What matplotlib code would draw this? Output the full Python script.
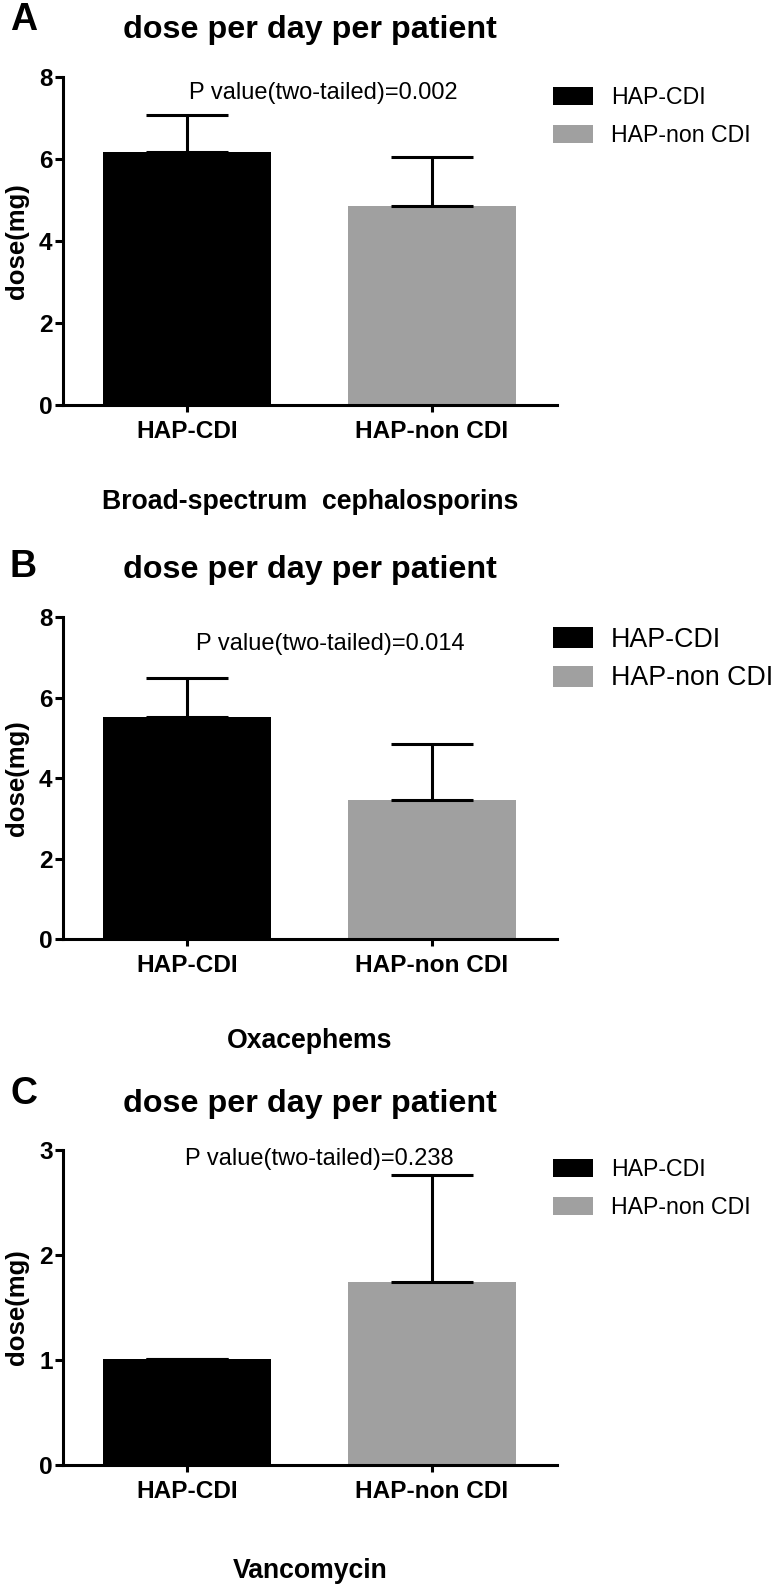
import matplotlib
matplotlib.use('Agg')
import matplotlib.pyplot as plt

plt.rcParams['font.family'] = ['Liberation Sans', 'DejaVu Sans']

W, H, DPI = 774, 1593, 100

# ---------------- data ----------------
groups = ['HAP-CDI', 'HAP-non CDI']
bar_colors = ['#000000', '#a0a0a0']

means_A = [6.17, 4.86]
sd_A = [0.91, 1.20]
means_B = [5.52, 3.46]
sd_B = [0.97, 1.38]
means_C = [1.01, 1.74]
sd_C = [0.0, 1.02]

p_values = ['0.002', '0.014', '0.238']
drug_classes = ['Broad-spectrum  cephalosporins', 'Oxacephems', 'Vancomycin']
panel_letters = ['A', 'B', 'C']
title_text = 'dose per day per patient'
ylabel_text = 'dose(mg)'
yticks_A = [0, 2, 4, 6, 8]
yticks_B = [0, 2, 4, 6, 8]
yticks_C = [0, 1, 2, 3]

# ---------------- layout (pixels) ----------------
panels = [
    dict(means=means_A, sd=sd_A, yticks=yticks_A, top=77, bottom=405,
         title_base=38, letter_base=30, p_cx=323, p_base=99,
         leg_cy=116.6, leg_fs=16.7, leg_hh=0.82, leg_ls=0.68, xl_base=509),
    dict(means=means_B, sd=sd_B, yticks=yticks_B, top=617, bottom=939,
         title_base=578, letter_base=577, p_cx=330, p_base=650,
         leg_cy=659, leg_fs=19.3, leg_hh=0.84, leg_ls=0.48, xl_base=1048),
    dict(means=means_C, sd=sd_C, yticks=yticks_C, top=1150, bottom=1465,
         title_base=1112, letter_base=1104, p_cx=319, p_base=1165,
         leg_cy=1188.6, leg_fs=16.7, leg_hh=0.82, leg_ls=0.62, xl_base=1578),
]

AX_L, AX_R = 63, 557
LW = 2.2

fig = plt.figure(figsize=(W / DPI, H / DPI), dpi=DPI)
fig.patch.set_facecolor('white')

xpos = [0, 1]
for i, pn in enumerate(panels):
    top, bot = pn['top'], pn['bottom']
    axh = bot - top
    axw = AX_R - AX_L
    ax = fig.add_axes([AX_L / W, 1 - bot / H, axw / W, axh / H])

    bars = ax.bar(xpos, pn['means'], width=0.687, color=bar_colors, zorder=1)
    for b, g in zip(bars, groups):
        b.set_label(g)
    ax.errorbar(xpos, pn['means'], yerr=[[0, 0], pn['sd']], fmt='none',
                ecolor='black', elinewidth=LW, capsize=29.4, capthick=LW,
                zorder=2)

    ax.set_xlim(-0.505, 1.511)
    ax.set_ylim(pn['yticks'][0], pn['yticks'][-1])
    ax.set_yticks(pn['yticks'])
    ax.set_xticks(xpos)
    ax.set_xticklabels(groups, fontsize=17.6, fontweight='bold')
    ax.set_yticklabels([str(t) for t in pn['yticks']], fontsize=17.6,
                       fontweight='bold')

    for s in ['top', 'right']:
        ax.spines[s].set_visible(False)
    for s in ['left', 'bottom']:
        ax.spines[s].set_linewidth(LW)
    ax.tick_params(axis='y', direction='out', length=5.5, width=LW, pad=2)
    ax.tick_params(axis='x', direction='out', length=5, width=LW, pad=6)

    # y label
    ax.set_ylabel(ylabel_text, fontsize=18.5, fontweight='bold', va='center')
    ax.yaxis.set_label_coords((17 - AX_L) / axw, 0.5)

    # x label (drug class)
    ax.set_xlabel(drug_classes[i], fontsize=19.2, fontweight='bold',
                  va='baseline')
    ax.xaxis.set_label_coords(0.5, -(pn['xl_base'] - bot) / axh)

    # title
    ax.set_title(title_text, fontsize=23.2, fontweight='bold',
                 y=1 + (top - pn['title_base']) / axh, pad=0, va='baseline')

    # p value
    ax.text((pn['p_cx'] - AX_L) / axw, 1 - (pn['p_base'] - top) / axh,
            'P value(two-tailed)=' + p_values[i], fontsize=17,
            ha='center', va='baseline', transform=ax.transAxes)

    # panel letter
    fig.text(10 / W, 1 - pn['letter_base'] / H, panel_letters[i],
             fontsize=27, fontweight='bold', ha='left', va='baseline')

    # legend
    fs_px = pn['leg_fs'] / 0.72
    ax.legend(handles=list(bars), loc='center left',
              bbox_to_anchor=(553 / W, 1 - pn['leg_cy'] / H),
              bbox_transform=fig.transFigure, frameon=False,
              fontsize=pn['leg_fs'], handlelength=40 / fs_px,
              handleheight=pn['leg_hh'], handletextpad=18 / fs_px,
              labelspacing=pn['leg_ls'], borderpad=0, borderaxespad=0)

fig.savefig('out.png', dpi=DPI)
